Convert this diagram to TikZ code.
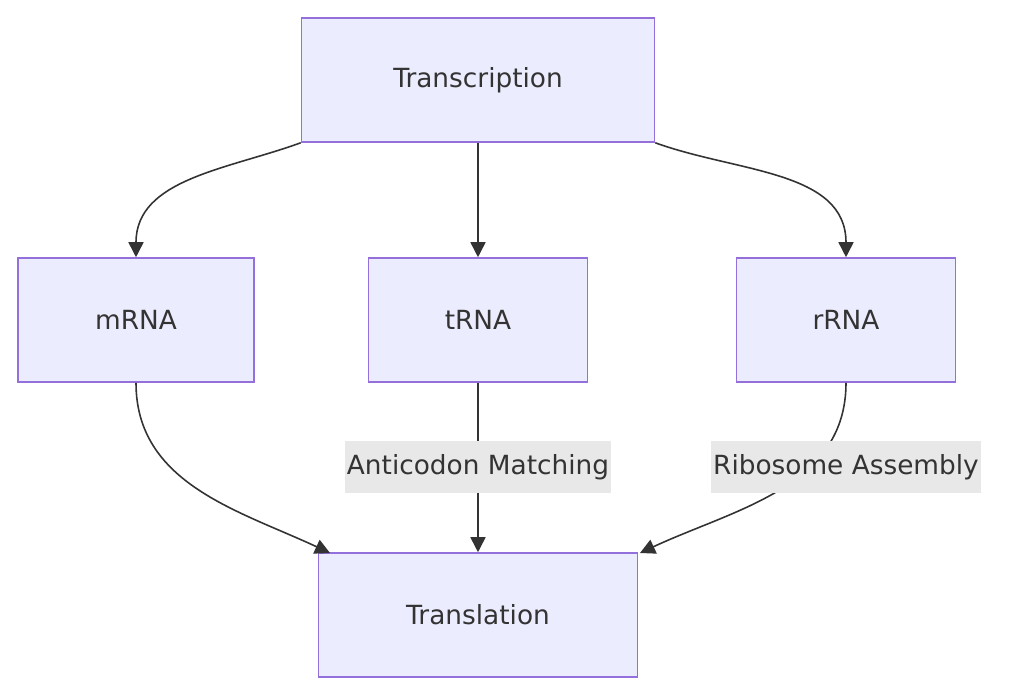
\documentclass[tikz,border=0pt]{standalone}
\usepackage{fontspec}
\setmainfont{DejaVu Sans}
\definecolor{boxfill}{HTML}{ECECFF}
\definecolor{boxline}{HTML}{9370DB}
\definecolor{ink}{HTML}{333333}
\definecolor{lblfill}{HTML}{E8E8E8}
\usetikzlibrary{arrows.meta, positioning, calc}

\begin{document}
\begin{tikzpicture}[x=0.02cm, y=-0.02cm,
  box/.style = {rectangle, draw = boxline, fill = boxfill, line width = 0.9pt, text = ink, font = \fontsize{15}{18}\selectfont, minimum height = 2.48cm, inner sep = 0pt},
  lbl/.style = {fill = lblfill, text = ink, font = \fontsize{15}{18}\selectfont, minimum height = 1.06cm, inner sep = 1pt},
  arr/.style = {-{Triangle[length=3mm, width=3mm]}, draw = ink, line width = 0.9pt}]
\useasboundingbox (0,0) rectangle (1024,696);
\node[box, minimum width = 7.06cm] (trans) at (478,80) {Transcription};
\node[box, minimum width = 4.72cm] (mrna) at (136,320) {mRNA};
\node[box, minimum width = 4.38cm] (trna) at (478,320) {tRNA};
\node[box, minimum width = 4.38cm] (rrna) at (846,320) {rRNA};
\node[box, minimum width = 6.38cm] (transl) at (478,615) {Translation};
\coordinate (inl) at (330,553);
\coordinate (inr) at (640,553);
\draw[arr] (trans.south west) to[out=-160, in=90] (mrna.north);
\draw[arr] (trans) -- (trna);
\draw[arr] (trans.south east) to[out=-20, in=90] (rrna.north);
\draw[arr] (mrna.south) to[out=-90, in=155] (inl);
\draw[arr] (rrna.south) to[out=-90, in=25] (inr);
\draw[arr] (trna) -- (transl);
\node[lbl] (anti) at (478,467) {Anticodon Matching};
\node[lbl] (ribo) at (846,467) {Ribosome Assembly};
\end{tikzpicture}
\end{document}
